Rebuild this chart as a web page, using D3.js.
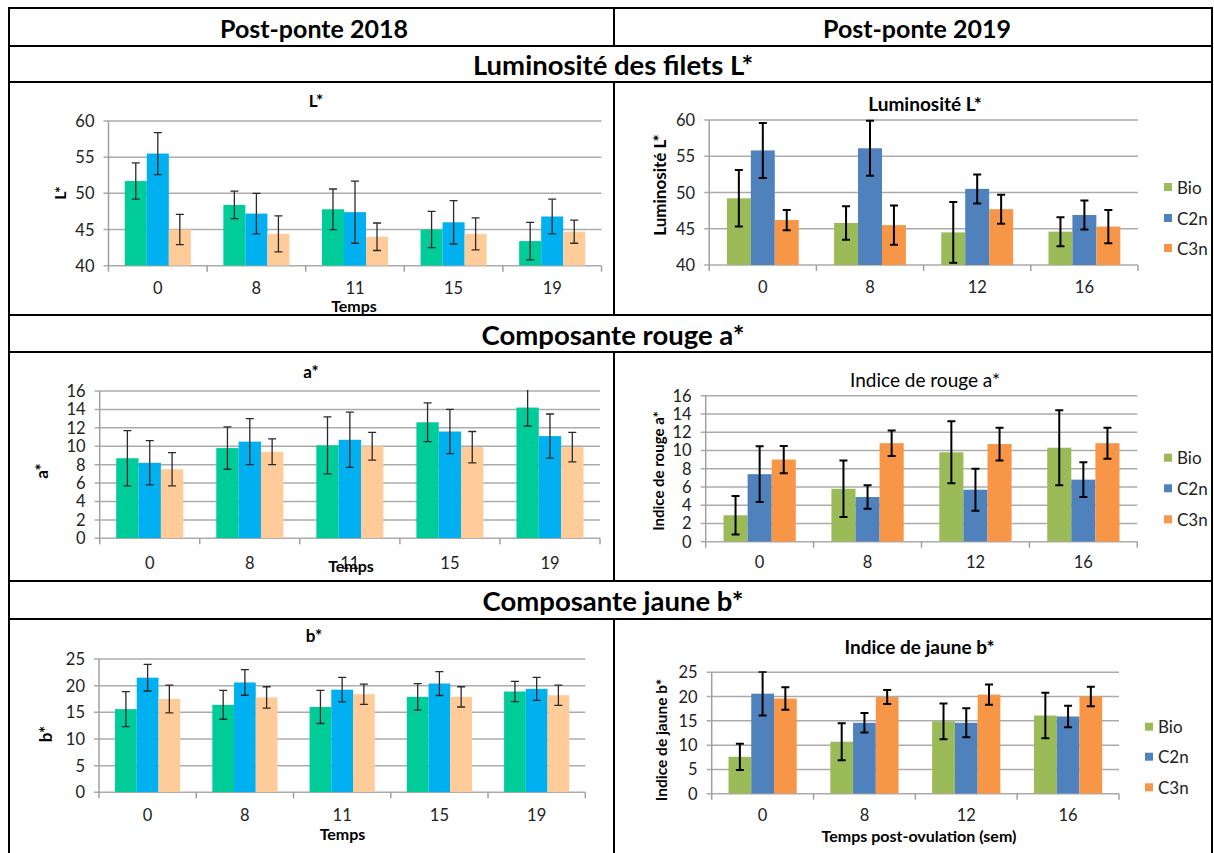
<!DOCTYPE html>
<html>
<head>
<meta charset="utf-8">
<script src="https://cdn.jsdelivr.net/npm/d3@7"></script>
<style>
  body { margin: 0; background: #fff; }
  svg { display: block; font-family: Lato, "Open Sans", sans-serif; }
</style>
</head>
<body>
<svg id="fig" width="1214" height="853"></svg>
<script>
// headers of the table
const colHeaders = ['Post-ponte 2018', 'Post-ponte 2019'];
const rowHeaders = ['Luminosité des filets L*', 'Composante rouge a*', 'Composante jaune b*'];

// categories
const temps2018 = ['0', '8', '11', '15', '19'];
const temps2019 = ['0', '8', '12', '16'];
const groupes2018 = ['G1', 'G2', 'G3'];
const groupes2019 = ['Bio', 'C2n', 'C3n'];

// L* 2018
const L2018_g1 = [51.7, 48.4, 47.8, 45.0, 43.4];
const L2018_g2 = [55.5, 47.2, 47.4, 46.0, 46.8];
const L2018_g3 = [45.0, 44.4, 44.0, 44.4, 44.7];
const L2018_e1 = [2.5, 1.9, 2.8, 2.5, 2.6];
const L2018_e2 = [2.9, 2.8, 4.3, 3.0, 2.4];
const L2018_e3 = [2.1, 2.5, 1.9, 2.2, 1.6];

// L* 2019
const L2019_bio = [49.2, 45.8, 44.5, 44.6];
const L2019_c2n = [55.8, 56.1, 50.5, 46.9];
const L2019_c3n = [46.2, 45.5, 47.7, 45.3];
const L2019_ebio = [3.9, 2.3, 4.2, 2.0];
const L2019_ec2n = [3.8, 3.8, 2.0, 2.0];
const L2019_ec3n = [1.4, 2.7, 2.0, 2.3];

// a* 2018
const a2018_g1 = [8.7, 9.8, 10.1, 12.6, 14.2];
const a2018_g2 = [8.2, 10.5, 10.7, 11.6, 11.1];
const a2018_g3 = [7.5, 9.4, 10.0, 9.9, 9.9];
const a2018_e1 = [3.0, 2.3, 3.1, 2.1, 2.0];
const a2018_e2 = [2.4, 2.5, 3.0, 2.4, 2.4];
const a2018_e3 = [1.8, 1.4, 1.5, 1.7, 1.6];

// a* 2019
const a2019_bio = [2.9, 5.8, 9.8, 10.3];
const a2019_c2n = [7.4, 4.9, 5.7, 6.8];
const a2019_c3n = [9.0, 10.8, 10.7, 10.8];
const a2019_ebio = [2.1, 3.1, 3.4, 4.1];
const a2019_ec2n = [3.05, 1.3, 2.3, 1.9];
const a2019_ec3n = [1.5, 1.4, 1.8, 1.7];

// b* 2018
const b2018_g1 = [15.6, 16.4, 16.0, 17.9, 18.9];
const b2018_g2 = [21.5, 20.6, 19.25, 20.4, 19.4];
const b2018_g3 = [17.5, 17.8, 18.4, 17.9, 18.2];
const b2018_e1 = [3.3, 2.7, 3.1, 2.5, 1.9];
const b2018_e2 = [2.5, 2.4, 2.3, 2.25, 2.15];
const b2018_e3 = [2.6, 2.0, 1.9, 1.9, 1.9];

// b* 2019
const b2019_bio = [7.6, 10.7, 14.9, 16.1];
const b2019_c2n = [20.6, 14.6, 14.6, 15.9];
const b2019_c3n = [19.6, 19.9, 20.4, 20.0];
const b2019_ebio = [2.7, 3.8, 3.7, 4.7];
const b2019_ec2n = [4.5, 2.0, 3.0, 2.2];
const b2019_ec3n = [2.3, 1.45, 2.1, 2.0];

// tick values
const ticksL = [40, 45, 50, 55, 60];
const ticksA = [0, 2, 4, 6, 8, 10, 12, 14, 16];
const ticksB = [0, 5, 10, 15, 20, 25];

const colors2018 = ['#00CC99', '#00B0F0', '#FFCC99'];
const colors2019 = ['#9BBB59', '#4F81BD', '#F79646'];

const svg = d3.select('#fig');

// ---- table frame ----
const frame = svg.append('g').attr('stroke', '#000').attr('stroke-width', 2);
[8, 46, 82, 315, 352, 581, 619].forEach(yy => {
  frame.append('line').attr('x1', 8).attr('x2', 1213).attr('y1', yy).attr('y2', yy);
});
frame.append('line').attr('x1', 9).attr('x2', 9).attr('y1', 7).attr('y2', 853);
frame.append('line').attr('x1', 1212).attr('x2', 1212).attr('y1', 7).attr('y2', 853);
[[8, 46], [82, 315], [352, 581], [619, 853]].forEach(s => {
  frame.append('line').attr('x1', 614).attr('x2', 614).attr('y1', s[0]).attr('y2', s[1]);
});

svg.selectAll('.colh')
  .data(colHeaders)
  .enter()
  .append('text')
    .attr('x', (d, i) => i == 0 ? 314 : 917)
    .attr('y', 28)
    .attr('text-anchor', 'middle')
    .attr('dominant-baseline', 'central')
    .attr('font-size', 25)
    .attr('font-weight', 'bold')
    .text(d => d);

svg.selectAll('.rowh')
  .data(rowHeaders)
  .enter()
  .append('text')
    .attr('x', 613)
    .attr('y', (d, i) => [64, 334, 600][i])
    .attr('text-anchor', 'middle')
    .attr('dominant-baseline', 'central')
    .attr('font-size', 27.5)
    .attr('font-weight', 'bold')
    .text(d => d);

// ---- one clustered bar chart with error bars ----
function drawChart(o) {
  const g = svg.append('g');
  const x = d3.scaleBand().domain(o.cats).range([o.x0, o.x1]).padding(0);
  const y = d3.scaleLinear().domain(o.domain).range([o.yBot, o.yTop]);
  const bw = x.bandwidth();
  const inner = d3.scaleBand()
    .domain(d3.range(o.values.length))
    .range([bw * 0.165, bw * 0.835])
    .padding(0);

  const clipId = 'clip' + o.id;
  svg.append('clipPath').attr('id', clipId)
    .append('rect')
      .attr('x', o.x0).attr('y', o.yTop - 1)
      .attr('width', o.x1 - o.x0).attr('height', o.yBot - o.yTop + 1);

  // gridlines
  g.selectAll('.grid')
    .data(o.ticks)
    .enter()
    .append('line')
      .attr('x1', o.x0 - 5).attr('x2', o.x1)
      .attr('y1', d => y(d)).attr('y2', d => y(d))
      .attr('stroke', '#ababab')
      .attr('stroke-width', 1.5);

  // axes
  g.append('line')
    .attr('x1', o.x0).attr('x2', o.x0)
    .attr('y1', o.yTop).attr('y2', o.yBot)
    .attr('stroke', '#a0a0a0').attr('stroke-width', 1.5);
  g.selectAll('.xtick')
    .data(o.cats.concat(['__end']))
    .enter()
    .append('line')
      .attr('x1', d => d == '__end' ? o.x1 : x(d))
      .attr('x2', d => d == '__end' ? o.x1 : x(d))
      .attr('y1', o.yBot).attr('y2', o.yBot + 6)
      .attr('stroke', '#a0a0a0').attr('stroke-width', 1.5);

  g.selectAll('.ylab')
    .data(o.ticks)
    .enter()
    .append('text')
      .attr('x', o.x0 - 14)
      .attr('y', d => y(d))
      .attr('text-anchor', 'end')
      .attr('dominant-baseline', 'central')
      .attr('font-size', o.tickSize)
      .attr('fill', '#222')
      .text(d => d);

  g.selectAll('.xlab')
    .data(o.cats)
    .enter()
    .append('text')
      .attr('x', d => x(d) + bw / 2)
      .attr('y', o.xLabY)
      .attr('text-anchor', 'middle')
      .attr('dominant-baseline', 'central')
      .attr('font-size', o.tickSize)
      .attr('fill', '#222')
      .text(d => d);

  // bars
  const plot = g.append('g').attr('clip-path', 'url(#' + clipId + ')');
  o.values.forEach((vals, s) => {
    plot.selectAll('.bar' + s)
      .data(vals)
      .enter()
      .append('rect')
        .attr('x', (d, i) => x(o.cats[i]) + inner(s))
        .attr('y', d => y(d))
        .attr('width', inner.bandwidth())
        .attr('height', d => y(o.domain[0]) - y(d))
        .attr('fill', o.colors[s]);
  });

  // error bars
  o.values.forEach((vals, s) => {
    const cx = i => x(o.cats[i]) + inner(s) + inner.bandwidth() / 2;
    const eb = plot.selectAll('.err' + s)
      .data(vals)
      .enter()
      .append('g')
        .attr('stroke', o.errColor)
        .attr('stroke-width', o.errWidth);
    eb.append('line')
      .attr('x1', (d, i) => cx(i)).attr('x2', (d, i) => cx(i))
      .attr('y1', (d, i) => y(d + o.errors[s][i]))
      .attr('y2', (d, i) => y(d - o.errors[s][i]));
    eb.append('line')
      .attr('x1', (d, i) => cx(i) - 4).attr('x2', (d, i) => cx(i) + 4)
      .attr('y1', (d, i) => y(d + o.errors[s][i]))
      .attr('y2', (d, i) => y(d + o.errors[s][i]));
    eb.append('line')
      .attr('x1', (d, i) => cx(i) - 4).attr('x2', (d, i) => cx(i) + 4)
      .attr('y1', (d, i) => y(d - o.errors[s][i]))
      .attr('y2', (d, i) => y(d - o.errors[s][i]));
  });

  // titles
  g.append('text')
    .attr('x', o.title[1]).attr('y', o.title[2])
    .attr('text-anchor', 'middle')
    .attr('dominant-baseline', 'central')
    .attr('font-size', o.title[3])
    .attr('font-weight', o.title[4])
    .text(o.title[0]);

  g.append('text')
    .attr('transform', 'translate(' + o.yTitle[1] + ',' + o.yTitle[2] + ') rotate(-90)')
    .attr('text-anchor', 'middle')
    .attr('dominant-baseline', 'central')
    .attr('font-size', o.yTitle[3])
    .attr('font-weight', 'bold')
    .text(o.yTitle[0]);

  if (o.xTitle) {
    g.append('text')
      .attr('x', o.xTitle[1]).attr('y', o.xTitle[2])
      .attr('text-anchor', 'middle')
      .attr('dominant-baseline', 'central')
      .attr('font-size', o.xTitle[3])
      .attr('font-weight', 'bold')
      .text(o.xTitle[0]);
  }

  if (o.legend) {
    const lg = g.selectAll('.leg')
      .data(o.legend.names)
      .enter()
      .append('g')
        .attr('transform', (d, i) => 'translate(' + o.legend.x + ',' + o.legend.ys[i] + ')');
    lg.append('rect')
      .attr('x', 0).attr('y', -4)
      .attr('width', 8).attr('height', 8)
      .attr('fill', (d, i) => o.colors[i]);
    lg.append('text')
      .attr('x', 13).attr('y', 0)
      .attr('dominant-baseline', 'central')
      .attr('font-size', 17)
      .attr('fill', '#222')
      .text(d => d);
  }
}

const left = { cats: temps2018, colors: colors2018, tickSize: 16.5, errColor: '#2a2a2a', errWidth: 1.3 };
const right = { cats: temps2019, colors: colors2019, tickSize: 16.5, errColor: '#000', errWidth: 2 };

drawChart(Object.assign({}, left, {
  id: 'L18', domain: [40, 60], ticks: ticksL,
  values: [L2018_g1, L2018_g2, L2018_g3], errors: [L2018_e1, L2018_e2, L2018_e3],
  x0: 108.5, x1: 601.5, yTop: 121, yBot: 265.7, xLabY: 287.5,
  title: ['L*', 316, 100, 17, 'bold'],
  yTitle: ['L*', 59, 193, 16],
  xTitle: ['Temps', 354, 305.5, 16]
}));

drawChart(Object.assign({}, right, {
  id: 'L19', domain: [40, 60], ticks: ticksL,
  values: [L2019_bio, L2019_c2n, L2019_c3n], errors: [L2019_ebio, L2019_ec2n, L2019_ec3n],
  x0: 709.2, x1: 1138, yTop: 120, yBot: 265, xLabY: 286.5,
  title: ['Luminosité L*', 925, 103, 19, 'bold'],
  yTitle: ['Luminosité L*', 659, 185, 17],
  legend: { names: groupes2019, x: 1164, ys: [187, 218, 248] }
}));

drawChart(Object.assign({}, left, {
  id: 'A18', domain: [0, 16], ticks: ticksA,
  values: [a2018_g1, a2018_g2, a2018_g3], errors: [a2018_e1, a2018_e2, a2018_e3],
  x0: 99.7, x1: 600, yTop: 391, yBot: 538.3, xLabY: 563,
  title: ['a*', 311, 371, 17, 'bold'],
  yTitle: ['a*', 41, 471, 17],
  xTitle: ['Temps', 351, 565, 16]
}));

drawChart(Object.assign({}, right, {
  id: 'A19', domain: [0, 16], ticks: ticksA,
  values: [a2019_bio, a2019_c2n, a2019_c3n], errors: [a2019_ebio, a2019_ec2n, a2019_ec3n],
  x0: 705.7, x1: 1137.3, yTop: 395.7, yBot: 541.7, xLabY: 561.5,
  title: ['Indice de rouge a*', 925, 379, 19, 'normal'],
  yTitle: ['Indice de rouge a*', 658, 471, 15],
  legend: { names: groupes2019, x: 1164, ys: [457.7, 488.3, 519.3] }
}));

drawChart(Object.assign({}, left, {
  id: 'B18', domain: [0, 25], ticks: ticksB,
  values: [b2018_g1, b2018_g2, b2018_g3], errors: [b2018_e1, b2018_e2, b2018_e3],
  x0: 99, x1: 585.3, yTop: 659, yBot: 792.3, xLabY: 814.5,
  title: ['b*', 314, 635, 17, 'bold'],
  yTitle: ['b*', 45, 734, 17],
  xTitle: ['Temps', 342.5, 833, 16]
}));

drawChart(Object.assign({}, right, {
  id: 'B19', domain: [0, 25], ticks: ticksB,
  values: [b2019_bio, b2019_c2n, b2019_c3n], errors: [b2019_ebio, b2019_ec2n, b2019_ec3n],
  x0: 711.7, x1: 1119, yTop: 672.3, yBot: 793.7, xLabY: 814.5,
  title: ['Indice de jaune b*', 919.5, 646, 19, 'bold'],
  yTitle: ['Indice de jaune b*', 661, 740, 15.5],
  xTitle: ['Temps post-ovulation (sem)', 919, 835, 16],
  legend: { names: groupes2019, x: 1145, ys: [726.7, 756.7, 787.3] }
}));
</script>
</body>
</html>
